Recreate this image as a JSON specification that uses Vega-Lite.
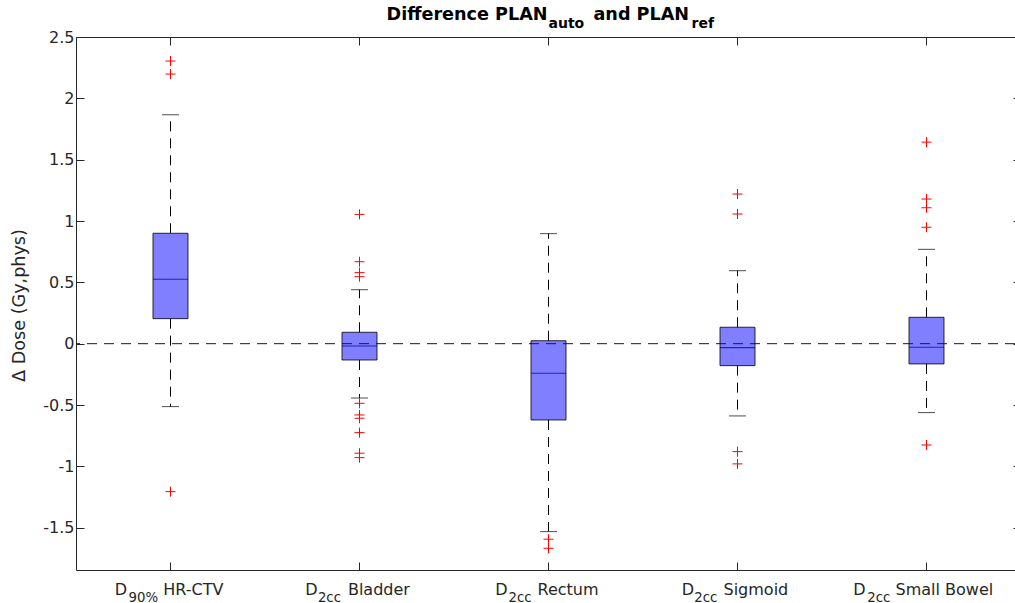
{
  "$schema": "https://vega.github.io/schema/vega-lite/v6.json",
  "width": 939,
  "height": 533,
  "autosize": {"type": "none"},
  "padding": {"left": 76, "top": 37, "right": 0, "bottom": 33},
  "background": "white",
  "config": {
    "view": {"stroke": null},
    "font": "DejaVu Sans",
    "axis": {
      "domainColor": "#262626",
      "domainWidth": 1,
      "tickColor": "#262626",
      "tickWidth": 1,
      "labelColor": "#262626",
      "labelFont": "DejaVu Sans",
      "labelFontSize": 16,
      "grid": false
    }
  },
  "datasets": {
    "stats": [
      {"cat": "HR-CTV", "lo": -0.513, "q1": 0.204, "med": 0.525, "q3": 0.9, "hi": 1.866},
      {"cat": "Bladder", "lo": -0.443, "q1": -0.133, "med": -0.019, "q3": 0.093, "hi": 0.44},
      {"cat": "Rectum", "lo": -1.532, "q1": -0.622, "med": -0.241, "q3": 0.024, "hi": 0.897},
      {"cat": "Sigmoid", "lo": -0.589, "q1": -0.179, "med": -0.033, "q3": 0.134, "hi": 0.595},
      {"cat": "Small Bowel", "lo": -0.562, "q1": -0.165, "med": -0.029, "q3": 0.215, "hi": 0.769}
    ],
    "out": [
      {"cat": "HR-CTV", "v": 2.304}, {"cat": "HR-CTV", "v": 2.198}, {"cat": "HR-CTV", "v": -1.206},
      {"cat": "Bladder", "v": 1.054}, {"cat": "Bladder", "v": 0.668}, {"cat": "Bladder", "v": 0.579},
      {"cat": "Bladder", "v": 0.546}, {"cat": "Bladder", "v": -0.486}, {"cat": "Bladder", "v": -0.581},
      {"cat": "Bladder", "v": -0.608}, {"cat": "Bladder", "v": -0.725}, {"cat": "Bladder", "v": -0.893},
      {"cat": "Bladder", "v": -0.929},
      {"cat": "Rectum", "v": -1.594}, {"cat": "Rectum", "v": -1.668},
      {"cat": "Sigmoid", "v": 1.22}, {"cat": "Sigmoid", "v": 1.057}, {"cat": "Sigmoid", "v": -0.88}, {"cat": "Sigmoid", "v": -0.98},
      {"cat": "Small Bowel", "v": 1.643}, {"cat": "Small Bowel", "v": 1.179}, {"cat": "Small Bowel", "v": 1.108},
      {"cat": "Small Bowel", "v": 0.949}, {"cat": "Small Bowel", "v": -0.826}
    ],
    "xlab": [
      {"cat": "HR-CTV", "d": "D", "sub": "90%", "rest": "HR-CTV"},
      {"cat": "Bladder", "d": "D", "sub": "2cc", "rest": "Bladder"},
      {"cat": "Rectum", "d": "D", "sub": "2cc", "rest": "Rectum"},
      {"cat": "Sigmoid", "d": "D", "sub": "2cc", "rest": "Sigmoid"},
      {"cat": "Small Bowel", "d": "D", "sub": "2cc", "rest": "Small Bowel"}
    ],
    "title": [
      {"t": "Difference PLAN", "k": "m"},
      {"t": "auto", "k": "s"},
      {"t": "and PLAN", "k": "m"},
      {"t": "ref", "k": "s"}
    ]
  },
  "resolve": {"axis": {"x": "independent", "y": "independent"}},
  "layer": [
    {
      "data": {"name": "stats"},
      "mark": {"type": "rule", "color": "#000000", "strokeWidth": 1, "strokeDash": [10, 7]},
      "encoding": {
        "x": {"field": "cat", "type": "nominal",
              "scale": {"domain": ["HR-CTV", "Bladder", "Rectum", "Sigmoid", "Small Bowel"], "range": [0, 945], "paddingInner": 0, "paddingOuter": 0},
              "axis": {"orient": "bottom", "labels": false, "tickSize": -8, "title": null}},
        "y": {"field": "q3", "type": "quantitative",
              "scale": {"domain": [-1.845, 2.5], "nice": false, "zero": false},
              "axis": {"orient": "left", "values": [-1.5, -1, -0.5, 0, 0.5, 1, 1.5, 2, 2.5],
                       "labelExpr": "'' + datum.value", "tickSize": -8, "labelPadding": 10,
                       "title": "Δ Dose (Gy,phys)", "titleFontSize": 17.6, "titleFontWeight": "normal",
                       "titleColor": "#262626", "titleFont": "DejaVu Sans", "titleAngle": -90,
                       "titleX": -56.5, "titleY": 268, "titleAlign": "center", "titleBaseline": "middle"}},
        "y2": {"field": "hi"}
      }
    },
    {
      "data": {"name": "stats"},
      "mark": {"type": "rule", "color": "#000000", "strokeWidth": 1, "strokeDash": [10, 7]},
      "encoding": {
        "x": {"field": "cat", "type": "nominal", "axis": null},
        "y": {"field": "q1", "type": "quantitative", "axis": null},
        "y2": {"field": "lo"}
      }
    },
    {
      "data": {"name": "stats"},
      "mark": {"type": "tick", "color": "#000000", "thickness": 1, "size": 17, "orient": "horizontal"},
      "encoding": {
        "x": {"field": "cat", "type": "nominal", "axis": null},
        "y": {"field": "hi", "type": "quantitative", "axis": null}
      }
    },
    {
      "data": {"name": "stats"},
      "mark": {"type": "tick", "color": "#000000", "thickness": 1, "size": 17, "orient": "horizontal"},
      "encoding": {
        "x": {"field": "cat", "type": "nominal", "axis": null},
        "y": {"field": "lo", "type": "quantitative", "axis": null}
      }
    },
    {
      "data": {"name": "stats"},
      "mark": {"type": "tick", "color": "#000000", "thickness": 1.2, "size": 35, "orient": "horizontal"},
      "encoding": {
        "x": {"field": "cat", "type": "nominal", "axis": null},
        "y": {"field": "med", "type": "quantitative", "axis": null}
      }
    },
    {
      "data": {"values": [{"z": 0}]},
      "mark": {"type": "rule", "color": "#1a1a1a", "strokeWidth": 1, "strokeDash": [10, 7]},
      "encoding": {
        "y": {"field": "z", "type": "quantitative", "axis": null}
      }
    },
    {
      "data": {"name": "stats"},
      "mark": {"type": "bar", "width": 35, "fill": "#0000ff", "fillOpacity": 0.5, "stroke": "#000000", "strokeOpacity": 0.8, "strokeWidth": 1},
      "encoding": {
        "x": {"field": "cat", "type": "nominal",
              "axis": {"orient": "top", "labels": false, "tickSize": -8, "title": null}},
        "y": {"field": "q1", "type": "quantitative",
              "axis": {"orient": "right", "values": [-1.5, -1, -0.5, 0, 0.5, 1, 1.5, 2, 2.5],
                       "labels": false, "tickSize": -8, "offset": 6, "title": null}},
        "y2": {"field": "q3"}
      }
    },
    {
      "data": {"name": "out"},
      "mark": {"type": "point", "shape": "M-1,0H1M0,-1V1", "size": 100, "filled": false, "stroke": "#ff0000", "strokeWidth": 1, "opacity": 1},
      "encoding": {
        "x": {"field": "cat", "type": "nominal", "axis": null},
        "y": {"field": "v", "type": "quantitative", "axis": null}
      }
    },
    {
      "data": {"name": "xlab"},
      "mark": {"type": "text", "align": "left", "baseline": "alphabetic", "fontSize": 16, "color": "#262626", "dy": 25,
               "dx": {"expr": "datum.cat === 'HR-CTV' ? -55.7 : datum.cat === 'Bladder' ? -54.3 : datum.cat === 'Rectum' ? -53.3 : datum.cat === 'Sigmoid' ? -55.7 : -73.3"}},
      "encoding": {
        "x": {"field": "cat", "type": "nominal", "axis": null},
        "y": {"datum": -1.845, "type": "quantitative", "axis": null},
        "text": {"field": "d"}
      }
    },
    {
      "data": {"name": "xlab"},
      "mark": {"type": "text", "align": "left", "baseline": "alphabetic", "fontSize": 13.3, "color": "#262626", "dy": 31.5,
               "dx": {"expr": "datum.cat === 'HR-CTV' ? -42 : datum.cat === 'Bladder' ? -41.6 : datum.cat === 'Rectum' ? -40 : datum.cat === 'Sigmoid' ? -43.3 : -59.3"}},
      "encoding": {
        "x": {"field": "cat", "type": "nominal", "axis": null},
        "y": {"datum": -1.845, "type": "quantitative", "axis": null},
        "text": {"field": "sub"}
      }
    },
    {
      "data": {"name": "xlab"},
      "mark": {"type": "text", "align": "left", "baseline": "alphabetic", "fontSize": 16, "color": "#262626", "dy": 25,
               "dx": {"expr": "datum.cat === 'HR-CTV' ? -7.3 : datum.cat === 'Bladder' ? -11.6 : datum.cat === 'Rectum' ? -11 : datum.cat === 'Sigmoid' ? -14 : -31"}},
      "encoding": {
        "x": {"field": "cat", "type": "nominal", "axis": null},
        "y": {"datum": -1.845, "type": "quantitative", "axis": null},
        "text": {"field": "rest"}
      }
    },
    {
      "data": {"name": "title"},
      "transform": [{"filter": "datum.k === 'm'"}],
      "mark": {"type": "text", "baseline": "alphabetic", "fontSize": 17.6, "fontWeight": "bold", "color": "#000000", "dy": -17,
               "align": {"expr": "datum.t === 'Difference PLAN' ? 'right' : 'left'"},
               "dx": {"expr": "datum.t === 'Difference PLAN' ? -1 : 45"}},
      "encoding": {
        "x": {"datum": "Rectum", "type": "nominal", "axis": null},
        "y": {"datum": 2.5, "type": "quantitative", "axis": null},
        "text": {"field": "t"}
      }
    },
    {
      "data": {"name": "title"},
      "transform": [{"filter": "datum.k === 's'"}],
      "mark": {"type": "text", "align": "left", "baseline": "alphabetic", "fontSize": 14, "fontWeight": "bold", "color": "#000000", "dy": -9,
               "dx": {"expr": "datum.t === 'auto' ? 0 : 143"}},
      "encoding": {
        "x": {"datum": "Rectum", "type": "nominal", "axis": null},
        "y": {"datum": 2.5, "type": "quantitative", "axis": null},
        "text": {"field": "t"}
      }
    }
  ]
}
